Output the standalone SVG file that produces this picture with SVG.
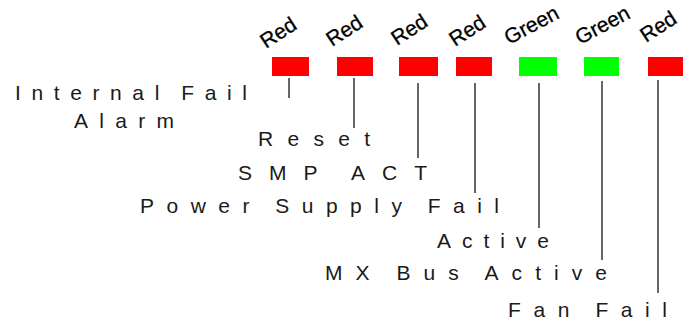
<svg xmlns="http://www.w3.org/2000/svg" width="683" height="322" viewBox="0 0 683 322">
<style>
.lbl{font-family:"Liberation Sans",Arial,sans-serif;font-size:21px;fill:#1a1a1a;word-spacing:-5px}
.col{font-family:"Liberation Sans",Arial,sans-serif;font-size:21px;fill:#000;stroke:#000;stroke-width:0.3}
.red{fill:#ff0000}
.grn{fill:#00ff00}
.ln{stroke:#333;stroke-width:1.5;fill:none}
</style>
<rect width="683" height="322" fill="#fff"/>
<g id="led1"><text class="col" transform="translate(266,49) rotate(-33)">Red</text><rect class="red" x="272" y="57" width="37" height="19"/></g>
<g id="led2"><text class="col" transform="translate(332,47) rotate(-33)">Red</text><rect class="red" x="337" y="57" width="36" height="19"/></g>
<g id="led3"><text class="col" transform="translate(397,46) rotate(-33)">Red</text><rect class="red" x="399" y="57" width="39" height="19"/></g>
<g id="led4"><text class="col" transform="translate(455,47) rotate(-33)">Red</text><rect class="red" x="456" y="57" width="36" height="19"/></g>
<g id="led5"><text class="col" transform="translate(509,45) rotate(-28)">Green</text><rect class="grn" x="519" y="57" width="38" height="19"/></g>
<g id="led6"><text class="col" transform="translate(580,45) rotate(-28)">Green</text><rect class="grn" x="584" y="57" width="35" height="19"/></g>
<g id="led7"><text class="col" transform="translate(646,43) rotate(-33)">Red</text><rect class="red" x="648" y="57" width="35" height="19"/></g>
<g id="connectors">
<line class="ln" x1="289" y1="78" x2="289" y2="98"/>
<line class="ln" x1="354" y1="78" x2="354" y2="128"/>
<line class="ln" x1="418" y1="83" x2="418" y2="158"/>
<line class="ln" x1="475" y1="83" x2="475" y2="193"/>
<line class="ln" x1="539" y1="83" x2="539" y2="228"/>
<line class="ln" x1="602" y1="81" x2="602" y2="260"/>
<line class="ln" x1="658" y1="80" x2="658" y2="293"/>
</g>
<g id="label1"><text class="lbl" x="15" y="100" textLength="232" lengthAdjust="spacing">Internal Fail</text><text class="lbl" x="74" y="128" textLength="100" lengthAdjust="spacing">Alarm</text></g>
<g id="label2"><text class="lbl" x="258" y="146" textLength="112" lengthAdjust="spacing">Reset</text></g>
<g id="label3"><text class="lbl" x="238" y="180" textLength="189" lengthAdjust="spacing">SMP ACT</text></g>
<g id="label4"><text class="lbl" x="140" y="213" textLength="359" lengthAdjust="spacing">Power Supply Fail</text></g>
<g id="label5"><text class="lbl" x="437" y="248" textLength="112" lengthAdjust="spacing">Active</text></g>
<g id="label6"><text class="lbl" x="325" y="280" textLength="282" lengthAdjust="spacing">MX Bus Active</text></g>
<g id="label7"><text class="lbl" x="508" y="317" textLength="159" lengthAdjust="spacing">Fan Fail</text></g>
</svg>
